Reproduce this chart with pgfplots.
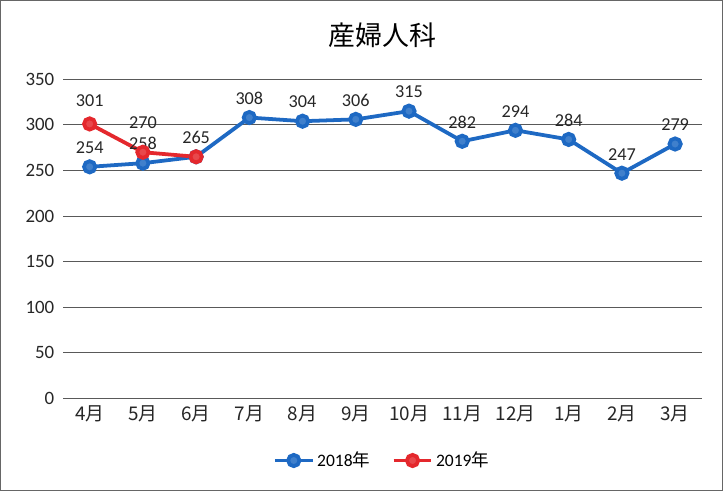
\documentclass[border=0pt]{standalone}
\usepackage{pgfplots}
\pgfplotsset{compat=1.18}
\usepackage{fontspec}
\setmainfont{Carlito}
\newfontfamily\cjk{Noto Sans CJK JP}
\definecolor{bl}{RGB}{30,105,195}
\definecolor{rd}{RGB}{228,40,45}
\begin{document}
\begin{tikzpicture}[x=1pt,y=1pt]
\begin{axis}[
  name=ax,
  scale only axis,
  width=474pt, height=237pt,
  xmin=-0.5, xmax=11.5,
  ymin=0, ymax=350,
  ytick={0,50,...,350},
  xtick={0,...,11},
  xticklabels={{\cjk 4月},{\cjk 5月},{\cjk 6月},{\cjk 7月},{\cjk 8月},{\cjk 9月},{\cjk 10月},{\cjk 11月},{\cjk 12月},{\cjk 1月},{\cjk 2月},{\cjk 3月}},
  /pgf/number format/assume math mode=true,
  tick label style={font=\fontsize{14}{16}\selectfont, text=black!85},
  yticklabel style={xshift=-3pt},
  xticklabel style={yshift=-2pt},
  ymajorgrids,
  grid style={black!65, line width=0.8pt},
  axis line style={draw=none},
  major tick length=0pt,
  title={\cjk\fontsize{20}{24}\selectfont 産婦人科},
  title style={yshift=14pt},
  legend style={at={(0.5,-0.15)}, anchor=north, draw=none, font=\fontsize{13}{15}\selectfont, legend columns=2, /tikz/every even column/.append style={column sep=14pt}},
  legend image code/.code={\draw[#1, mark repeat=2, mark phase=2] plot coordinates {(0pt,0pt) (14pt,0pt) (28pt,0pt)};},
  every node near coord/.append style={font=\fontsize{13.5}{15}\selectfont, text=black!85, yshift=5pt},
]
\addplot[bl, line width=2.8pt, mark=*, mark size=4.2pt, mark options={fill=bl!85!white, draw=bl}, nodes near coords] coordinates {
 (0,254) (1,258) (2,265) (3,308) (4,304) (5,306) (6,315) (7,282) (8,294) (9,284) (10,247) (11,279)};
\addlegendentry{2018{\cjk 年}}
\addplot[rd, line width=2.8pt, mark=*, mark size=4.2pt, mark options={fill=rd!85!white, draw=rd}, nodes near coords={\ifnum\coordindex=0 \pgfmathprintnumber{\pgfplotspointmeta}\fi}, every node near coord/.append style={yshift=3pt}] coordinates {
 (0,301) (1,270) (2,265)};
\addlegendentry{2019{\cjk 年}}
\addplot[draw=none, forget plot, nodes near coords, every node near coord/.append style={yshift=9pt}] coordinates {(1,270)};
\end{axis}
\draw[black!60, line width=0.6pt] ([xshift=-46.5pt,yshift=-68pt]ax.south west) rectangle ([xshift=15.5pt,yshift=58.5pt]ax.north east);
\end{tikzpicture}
\end{document}
